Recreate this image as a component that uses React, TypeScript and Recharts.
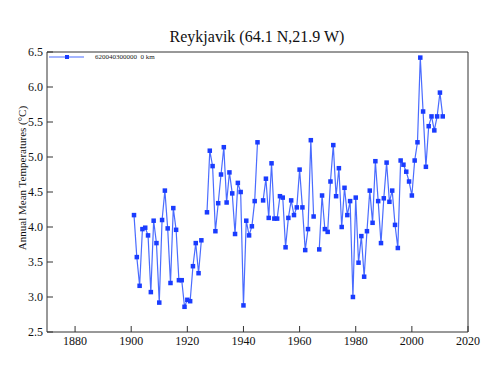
import { LineChart, Line, XAxis, YAxis } from "recharts"

document.body.style.margin = "0"

const years = Array.from({ length: 111 }, (_, i) => 1901 + i)

// annual mean temperature (°C), null = missing year
const temps: (number | null)[] = [
  4.17, 3.57, 3.16, 3.97, 3.99, 3.88, 3.07, 4.09, 3.77, 2.92,
  4.10, 4.52, 3.98, 3.20, 4.27, 3.96, 3.24, 3.24, 2.86, 2.96,
  2.94, 3.44, 3.77, 3.34, 3.81, null, 4.21, 5.09, 4.87, 3.94,
  4.34, 4.75, 5.14, 4.35, 4.78, 4.48, 3.90, 4.63, 4.50, 2.88,
  4.09, 3.88, 4.01, 4.37, 5.21, null, 4.38, 4.69, 4.13, 4.91,
  4.12, 4.12, 4.44, 4.42, 3.71, 4.13, 4.38, 4.17, 4.28, 4.82,
  4.28, 3.67, 3.97, 5.24, 4.15, null, 3.68, 4.45, 3.97, 3.93,
  4.65, 5.17, 4.44, 4.84, 4.00, 4.56, 4.17, 4.37, 3.00, 4.42,
  3.49, 3.87, 3.29, 3.94, 4.52, 4.06, 4.94, 4.37, 3.77, 4.41,
  4.92, 4.36, 4.52, 4.03, 3.70, 4.95, 4.89, 4.79, 4.65, 4.45,
  4.95, 5.21, 6.42, 5.65, 4.86, 5.44, 5.58, 5.38, 5.58, 5.92,
  5.58,
]

const xTicks = [1880, 1900, 1920, 1940, 1960, 1980, 2000, 2020]
const yTicks = [2.5, 3.0, 3.5, 4.0, 4.5, 5.0, 5.5, 6.0, 6.5]

const title = "Reykjavik (64.1 N,21.9 W)"
const yTitle = "Annual Mean Temperatures (°C)"
const seriesName = "620040300000  0 km"

const data = years.map((year, i) => ({ year, temp: temps[i] }))

const font = "'Liberation Serif', 'Times New Roman', serif"
const axisColor = "#333"
const lineColor = "#4a6cff"
const dotColor = "#1a3cff"

const SquareDot = (props: any) => {
  const { cx, cy, value } = props
  if (value == null || cx == null || cy == null) return <g />
  return <rect x={cx - 2.25} y={cy - 2.25} width={4.5} height={4.5} fill={dotColor} />
}

const renderXTick = (props: any) => (
  <text
    x={props.x}
    y={props.y}
    dy="0.71em"
    textAnchor="middle"
    style={{ fontFamily: font, fontSize: 12, fill: "#111" }}
  >
    {props.payload.value}
  </text>
)

const renderYTick = (props: any) => (
  <text
    x={props.x}
    y={props.y}
    dy="0.355em"
    textAnchor="end"
    style={{ fontFamily: font, fontSize: 12, fill: "#111" }}
  >
    {Number(props.payload.value).toFixed(1)}
  </text>
)

export default function App() {
  return (
    <div style={{ position: "relative", width: 500, height: 371, background: "#fff", fontFamily: font }}>
      <div
        style={{
          position: "absolute",
          left: 0,
          width: 514,
          top: 27,
          textAlign: "center",
          fontSize: 16,
          color: "#111",
          lineHeight: "20px",
        }}
      >
        {title}
      </div>
      <div style={{ position: "absolute", left: 9, top: 194, width: 0, height: 0 }}>
        <div
          style={{
            position: "absolute",
            transform: "translate(-50%, -50%) rotate(-90deg)",
            whiteSpace: "nowrap",
            fontSize: 11,
            color: "#111",
            left: 13,
            top: -16,
          }}
        >
          {yTitle}
        </div>
      </div>
      <div style={{ position: "absolute", left: 49, top: 52, display: "flex", alignItems: "center", height: 10 }}>
        <svg width={36} height={6}>
          <line x1={0} y1={3} x2={35} y2={3} stroke={lineColor} strokeWidth={1.2} />
          <rect x={16} y={1} width={4} height={4} fill={dotColor} />
        </svg>
        <span style={{ fontSize: 7, marginLeft: 10, color: "#222", whiteSpace: "pre" }}>{seriesName}</span>
      </div>
      <LineChart
        width={500}
        height={371}
        data={data}
        style={{ fontFamily: font }}
        margin={{ top: 52, right: 32, left: 0, bottom: 0 }}
      >
        <XAxis
          dataKey="year"
          type="number"
          domain={[1870, 2020]}
          ticks={xTicks}
          allowDataOverflow
          height={39}
          tickSize={-6}
          tickMargin={10}
          stroke={axisColor}
          tick={renderXTick}
        />
        <XAxis
          xAxisId="top"
          dataKey="year"
          type="number"
          orientation="top"
          domain={[1870, 2020]}
          ticks={xTicks}
          height={1}
          mirror
          tickSize={6}
          tick={false}
          stroke={axisColor}
        />
        <YAxis
          type="number"
          domain={[2.5, 6.5]}
          ticks={yTicks}
          width={47}
          tickSize={-6}
          tickMargin={10}
          stroke={axisColor}
          tick={renderYTick}
        />
        <YAxis
          yAxisId="right"
          orientation="right"
          type="number"
          domain={[2.5, 6.5]}
          ticks={yTicks}
          width={1}
          mirror
          tickSize={6}
          tick={false}
          stroke={axisColor}
        />
        <Line
          dataKey="temp"
          stroke={lineColor}
          strokeWidth={1.2}
          dot={<SquareDot />}
          activeDot={false}
          connectNulls={false}
          isAnimationActive={false}
        />
      </LineChart>
    </div>
  )
}
